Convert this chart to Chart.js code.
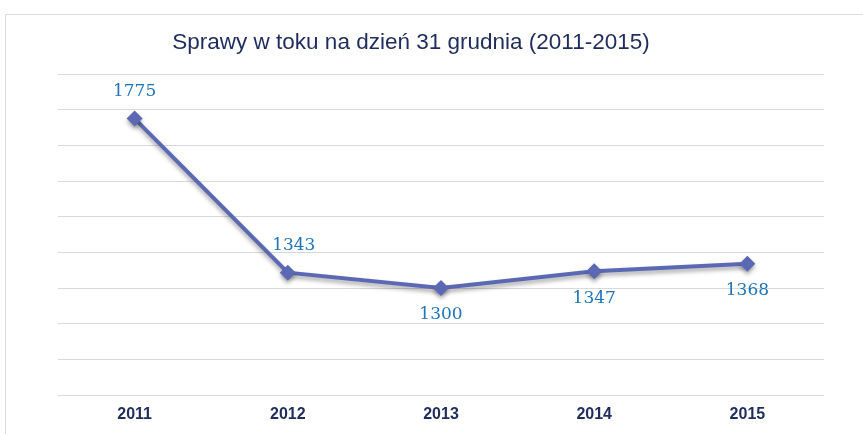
<!DOCTYPE html>
<html>
<head>
<meta charset="utf-8">
<script src="https://cdn.jsdelivr.net/npm/chart.js@4"></script>
<style>
  body { margin: 0; background: #fff; }
  #wrap { position: relative; width: 863px; height: 434px; }
  #frame { position: absolute; left: 5px; top: 14px; right: 0; bottom: 0;
           border-top: 1px solid #dcdcdc; border-left: 1px solid #dcdcdc; }
  canvas { position: absolute; left: 0; top: 0; }
</style>
</head>
<body>
<div id="wrap">
  <div id="frame"></div>
  <canvas id="chart" width="863" height="434"></canvas>
</div>
<script>
// dane
const years = ['2011', '2012', '2013', '2014', '2015'];
const cases = [1775, 1343, 1300, 1347, 1368];
const titleText = 'Sprawy w toku na dzień 31 grudnia (2011-2015)';

// etykiety danych: nad / pod punktem
const labelSide = [-1, -1, 1, 1, 1];
const labelShiftX = [0, 6, 0, 0, 0];

const navy = '#1f2c5c';
const lineBlue = '#5b69b5';
const labelBlue = '#1f73b7';

// cień pod linią
const shadowPlugin = {
    id: 'lineShadow',
    beforeDatasetsDraw(chart) {
        const ctx = chart.ctx;
        ctx.save();
        ctx.shadowColor = 'rgba(0,0,0,0.35)';
        ctx.shadowBlur = 4;
        ctx.shadowOffsetY = 3;
    },
    afterDatasetsDraw(chart) {
        chart.ctx.restore();
    }
};

// tytuł i wartości
const textPlugin = {
    id: 'texts',
    afterDraw(chart) {
        const ctx = chart.ctx;
        const x = chart.scales.x, y = chart.scales.y;
        ctx.save();
        ctx.textAlign = 'center';
        ctx.textBaseline = 'middle';
        ctx.fillStyle = navy;
        ctx.font = '22.5px "Liberation Sans", Arial, sans-serif';
        ctx.fillText(titleText, 411, 43);

        ctx.fillStyle = labelBlue;
        ctx.font = '17px "DejaVu Serif", serif';
        cases.forEach((v, i) => {
            const px = x.getPixelForValue(i) + labelShiftX[i];
            const py = y.getPixelForValue(v) + labelSide[i] * 27;
            ctx.fillText(String(v), px, py);
        });
        ctx.restore();
    }
};

const ctx = document.getElementById('chart').getContext('2d');
new Chart(ctx, {
    type: 'line',
    data: {
        labels: years,
        datasets: [{
            data: cases,
            borderColor: lineBlue,
            backgroundColor: lineBlue,
            borderWidth: 4,
            tension: 0,
            pointStyle: 'rectRot',
            pointRadius: 8,
            pointBorderWidth: 0,
            pointBackgroundColor: lineBlue
        }]
    },
    options: {
        responsive: false,
        animation: false,
        layout: { padding: { left: 58, right: 39, top: 74, bottom: 0 } },
        plugins: { legend: { display: false }, tooltip: { enabled: false }, title: { display: false } },
        scales: {
            x: {
                offset: true,
                grid: { display: false },
                border: { display: false },
                ticks: {
                    color: navy,
                    font: { family: '"Liberation Sans", Arial, sans-serif', size: 16, weight: 'bold' },
                    padding: 2
                },
                afterFit(scale) { scale.height = 39; }
            },
            y: {
                min: 1000,
                max: 1900,
                ticks: { display: false, stepSize: 100 },
                grid: { color: '#d9d9d9', lineWidth: 1, drawTicks: false },
                border: { display: false },
                afterFit(scale) { scale.width = 0; }
            }
        }
    },
    plugins: [shadowPlugin, textPlugin]
});
</script>
</body>
</html>
